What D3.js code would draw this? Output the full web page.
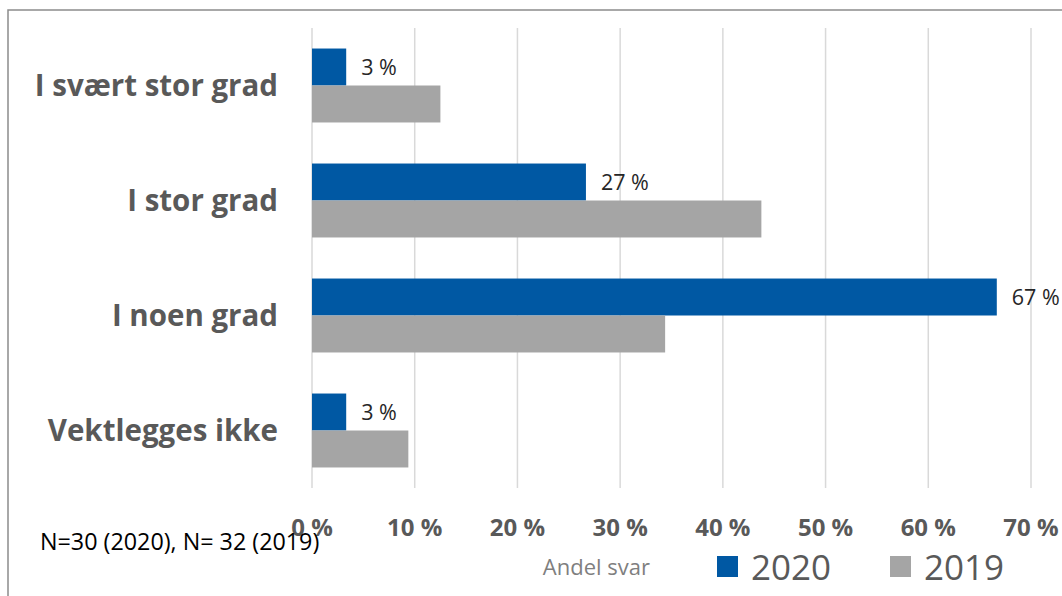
<!DOCTYPE html>
<html><head><meta charset="utf-8">
<script src="https://cdn.jsdelivr.net/npm/d3@7"></script>
<style>body{margin:0;background:#fff}svg{display:block}text{font-family:"Open Sans",Lato,sans-serif}</style>
</head><body>
<svg id="c" width="1062" height="596"></svg>
<script>
const categories = ["I svært stor grad","I stor grad","I noen grad","Vektlegges ikke"];
const series = ["2020","2019"];
const values2020 = [3.33, 26.67, 66.67, 3.33];
const values2019 = [12.5, 43.75, 34.38, 9.38];
const labels2020 = ["3 %","27 %","67 %","3 %"];
const ticks = [0,10,20,30,40,50,60,70];
const tickLabels = ["0 %","10 %","20 %","30 %","40 %","50 %","60 %","70 %"];
const note = "N=30 (2020), N= 32 (2019)";
const axisTitle = "Andel svar";
const colors = {"2020":"#0058A3","2019":"#A5A5A5"};

const svg = d3.select("#c");
svg.append("rect").attr("x",8).attr("y",10).attr("width",1100).attr("height",700)
  .attr("fill","none").attr("stroke","#8c8c8c").attr("stroke-width",1.5);

const x = d3.scaleLinear().domain([0,70]).range([312,1031]);
const y = d3.scaleBand().domain(categories).range([28,488]).paddingInner(0.357).paddingOuter(0.1785);
const ys = d3.scaleBand().domain(series).range([0,y.bandwidth()]);

// gridlines
svg.append("g").selectAll("line").data(ticks).join("line")
  .attr("x1",d=>x(d)).attr("x2",d=>x(d)).attr("y1",28).attr("y2",488)
  .attr("stroke","#d9d9d9").attr("stroke-width",1.5);

const rows = categories.map((c,i)=>({c, v2020:values2020[i], v2019:values2019[i], lab:labels2020[i]}));
const g = svg.append("g");
g.selectAll("rect.b20").data(rows).join("rect").attr("class","b20")
  .attr("x",x(0)).attr("y",d=>y(d.c)+ys("2020")).attr("width",d=>x(d.v2020)-x(0)).attr("height",ys.bandwidth())
  .attr("fill",colors["2020"]);
g.selectAll("rect.b19").data(rows).join("rect").attr("class","b19")
  .attr("x",x(0)).attr("y",d=>y(d.c)+ys("2019")).attr("width",d=>x(d.v2019)-x(0)).attr("height",ys.bandwidth())
  .attr("fill",colors["2019"]);
g.selectAll("text.lab").data(rows).join("text").attr("class","lab")
  .attr("x",d=>x(d.v2020)+15).attr("y",d=>y(d.c)+ys("2020")+ys.bandwidth()/2)
  .attr("dy","0.35em").attr("font-size",21.5).attr("fill","#262626").text(d=>d.lab);

// category labels
svg.append("g").selectAll("text").data(categories).join("text")
  .attr("x",278).attr("y",d=>y(d)+y.bandwidth()/2).attr("dy","0.35em")
  .attr("text-anchor","end").attr("font-size",29.5).attr("font-weight","bold").attr("fill","#595959").text(d=>d);

// x tick labels
svg.append("g").selectAll("text").data(ticks).join("text")
  .attr("x",d=>x(d)).attr("y",528).attr("dy","0.35em").attr("text-anchor","middle")
  .attr("font-size",24).attr("font-weight","bold").attr("fill","#595959").text((d,i)=>tickLabels[i]);

svg.append("text").attr("x",650).attr("y",567).attr("dy","0.35em").attr("text-anchor","end")
  .attr("font-size",22).attr("fill","#7f7f7f").text(axisTitle);

// legend
const lx = [717, 890];
series.forEach((s,i)=>{
  svg.append("rect").attr("x",lx[i]).attr("y",556).attr("width",21).attr("height",21).attr("fill",colors[s]);
  svg.append("text").attr("x",lx[i]+34).attr("y",567).attr("dy","0.36em").attr("font-family","Lato").attr("font-size",35).attr("fill","#595959").text(s);
});

svg.append("text").attr("x",40).attr("y",542).attr("dy","0.35em").attr("font-size",23.3).attr("fill","#000").text(note);
</script>
</body></html>
